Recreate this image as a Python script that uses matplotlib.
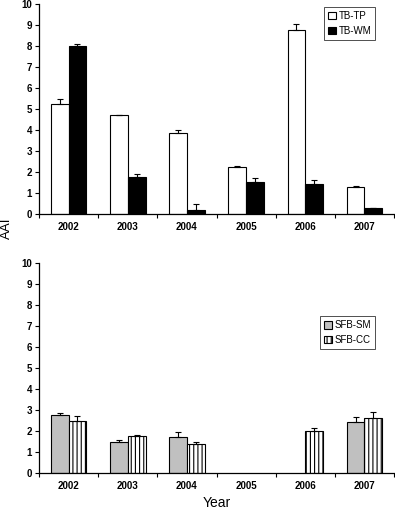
import numpy as np
import matplotlib
matplotlib.use('Agg')
import matplotlib.pyplot as plt

plt.rcParams.update({'font.family': 'Liberation Sans', 'hatch.linewidth': 0.8})

years = ['2002', '2003', '2004', '2005', '2006', '2007']

tb_tp = [5.22, 4.70, 3.87, 2.22, 8.78, 1.27]
tb_tp_err = [0.25, 0.03, 0.12, 0.07, 0.25, 0.04]
tb_wm = [8.00, 1.75, 0.20, 1.52, 1.43, 0.30]
tb_wm_err = [0.10, 0.15, 0.27, 0.18, 0.20, 0.0]

sfb_sm = [2.76, 1.49, 1.71, np.nan, np.nan, 2.43]
sfb_sm_err = [0.08, 0.10, 0.24, 0.0, 0.0, 0.25]
sfb_cc = [2.49, 1.75, 1.38, np.nan, 2.00, 2.60]
sfb_cc_err = [0.22, 0.05, 0.10, 0.0, 0.12, 0.30]

fig = plt.figure(figsize=(3.95, 5.09), dpi=100)
ax1 = fig.add_axes([0.0987, 0.5796, 0.899, 0.4126])
ax2 = fig.add_axes([0.0987, 0.0707, 0.899, 0.4126])

x = np.arange(len(years))
w = 0.3


def style(ax):
    ax.set_xlim(-0.5, len(years) - 0.5)
    ax.set_ylim(0, 10)
    ax.set_yticks(range(0, 11))
    ax.set_xticks(x)
    ax.set_xticklabels(years)
    ax.set_xticks(np.arange(-0.5, len(years)), minor=True)
    ax.tick_params(axis='x', which='major', length=0, pad=6)
    ax.tick_params(axis='x', which='minor', length=3, width=0.8, direction='out')
    ax.tick_params(axis='y', length=3, width=0.8, direction='out', pad=2)
    for lab in ax.get_xticklabels() + ax.get_yticklabels():
        lab.set_fontsize(7)
        lab.set_fontweight('bold')
    for s in ['top', 'right']:
        ax.spines[s].set_visible(False)
    for s in ['left', 'bottom']:
        ax.spines[s].set_linewidth(0.9)


def err(e):
    return [np.zeros(len(e)), e]


ekw = dict(elinewidth=0.8, capthick=0.8, ecolor='black')

ax1.bar(x - w / 2, tb_tp, w, color='white', edgecolor='black', linewidth=0.8,
        yerr=err(tb_tp_err), capsize=2.5, error_kw=ekw, label='TB-TP')
ax1.bar(x + w / 2, tb_wm, w, color='black', edgecolor='black', linewidth=0.8,
        yerr=err(tb_wm_err), capsize=2.5, error_kw=ekw, label='TB-WM')
style(ax1)
leg1 = ax1.legend(loc='upper right', bbox_to_anchor=(0.955, 1.0), fontsize=7,
                  frameon=True, fancybox=False, edgecolor='black',
                  handlelength=0.8, handleheight=0.8, handletextpad=0.3,
                  borderpad=0.4, labelspacing=0.5, borderaxespad=0.3)
leg1.get_frame().set_linewidth(0.6)

ax2.bar(x - w / 2, sfb_sm, w, color='#c0c0c0', edgecolor='black', linewidth=0.8,
        yerr=err(sfb_sm_err), capsize=2.5, error_kw=ekw, label='SFB-SM')
ax2.bar(x + w / 2, sfb_cc, w, color='white', edgecolor='black', linewidth=0.8,
        hatch='||||', yerr=err(sfb_cc_err), capsize=2.5, error_kw=ekw,
        label='SFB-CC')
style(ax2)
leg2 = ax2.legend(loc='upper right', bbox_to_anchor=(0.955, 0.76), fontsize=7,
                  frameon=True, fancybox=False, edgecolor='black',
                  handlelength=0.8, handleheight=0.8, handletextpad=0.3,
                  borderpad=0.4, labelspacing=0.5, borderaxespad=0.3)
leg2.get_frame().set_linewidth(0.6)

fig.text(0.018, 0.551, 'AAI', rotation=90, ha='center', va='center', fontsize=9.5)
fig.text(0.548, 0.012, 'Year', ha='center', va='center', fontsize=10)

fig.savefig('out.png', dpi=100)
